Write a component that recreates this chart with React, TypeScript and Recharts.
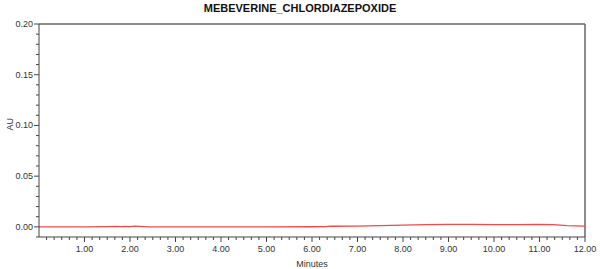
import { LineChart, Line, XAxis, YAxis, ReferenceLine, Label } from "recharts";

const title = "MEBEVERINE_CHLORDIAZEPOXIDE";

// retention time (min) and absorbance (AU)
const minutes = [0, 0.5, 1.0, 1.5, 1.7, 1.8, 1.9, 2.0, 2.1, 2.2, 2.4, 3, 4, 5, 6, 6.3, 6.4, 6.5, 7, 7.5, 8, 8.5, 9, 9.5, 10, 10.5, 11, 11.3, 11.6, 12];
const au = [0, 0, 0, 0.0002, 0.0004, 0.0002, 0.0005, 0.0003, 0.0008, 0.0005, 0, 0, 0, 0, 0.0001, 0.0002, 0.0008, 0.0006, 0.0008, 0.0012, 0.0018, 0.0022, 0.0024, 0.0024, 0.0022, 0.0022, 0.0023, 0.0022, 0.0012, 0.0008];

const xMajor = [1, 2, 3, 4, 5, 6, 7, 8, 9, 10, 11, 12];
const yMajor = [0, 0.05, 0.1, 0.15, 0.2];

const xTicks: number[] = [];
for (let i = 1; i <= 72; i++) xTicks.push(i / 6);
const yTicks: number[] = [];
for (let i = -1; i <= 20; i++) yTicks.push(i / 100);

const data = minutes.map((m, i) => ({ m, au: au[i] }));

const FONT = "'Liberation Sans Narrow', 'Arial Narrow', 'Liberation Sans', Arial, sans-serif";
const AXIS = "#444";

const isMajorX = (v: number) => xMajor.some((t) => Math.abs(t - v) < 1e-6);
const isMajorY = (v: number) => yMajor.some((t) => Math.abs(t - v) < 1e-6);

const XTick = ({ x, y, payload }: any) => {
  const major = isMajorX(payload.value);
  return (
    <g>
      <line x1={x} x2={x} y1={y} y2={y + (major ? 5 : 3)} stroke={AXIS} />
      {major && (
        <text x={x} y={y + 15} textAnchor="middle" fontSize={9} fill="#333" fontFamily={FONT}>
          {payload.value.toFixed(2)}
        </text>
      )}
    </g>
  );
};

const YTick = ({ x, y, payload }: any) => {
  const major = isMajorY(payload.value);
  return (
    <g>
      <line x1={x - (major ? 5 : 3)} x2={x} y1={y} y2={y} stroke={AXIS} />
      {major && (
        <text x={x - 6} y={y + 3} textAnchor="end" fontSize={9} fill="#333" fontFamily={FONT}>
          {payload.value.toFixed(2)}
        </text>
      )}
    </g>
  );
};

export default function App() {
  return (
    <div style={{ position: "absolute", left: 0, top: 0, width: 600, height: 269, background: "#fff" }}>
      <div style={{ position: "absolute", left: 0, top: 2, width: 600, textAlign: "center", fontFamily: FONT, fontWeight: 700, fontSize: 11, color: "#111" }}>
        {title}
      </div>
      <LineChart width={600} height={269} data={data} margin={{ top: 24, right: 15, left: 9, bottom: 12 }}>
        <XAxis
          dataKey="m"
          type="number"
          domain={[0, 12]}
          ticks={xTicks}
          interval={0}
          allowDataOverflow
          stroke={AXIS}
          tickLine={false}
          tickSize={0}
          tickMargin={0}
          tick={<XTick />}
          height={20}
        >
          <Label value="Minutes" position="insideBottom" offset={-10} fontSize={9} fill="#333" fontFamily={FONT} />
        </XAxis>
        <YAxis
          type="number"
          domain={[-0.01, 0.2]}
          ticks={yTicks}
          interval={0}
          allowDataOverflow
          stroke={AXIS}
          tickLine={false}
          tickSize={0}
          tickMargin={0}
          tick={<YTick />}
          width={30}
        >
          <Label value="AU" angle={-90} position="insideLeft" offset={1} fontSize={9} fill="#333" fontFamily={FONT} />
        </YAxis>
        <ReferenceLine y={0.2} stroke="#666" strokeWidth={1.5} />
        <ReferenceLine x={12} stroke="#666" strokeWidth={1.5} />
        <Line type="linear" dataKey="au" stroke="#ee4b4b" strokeWidth={1.3} dot={false} isAnimationActive={false} />
      </LineChart>
    </div>
  );
}
